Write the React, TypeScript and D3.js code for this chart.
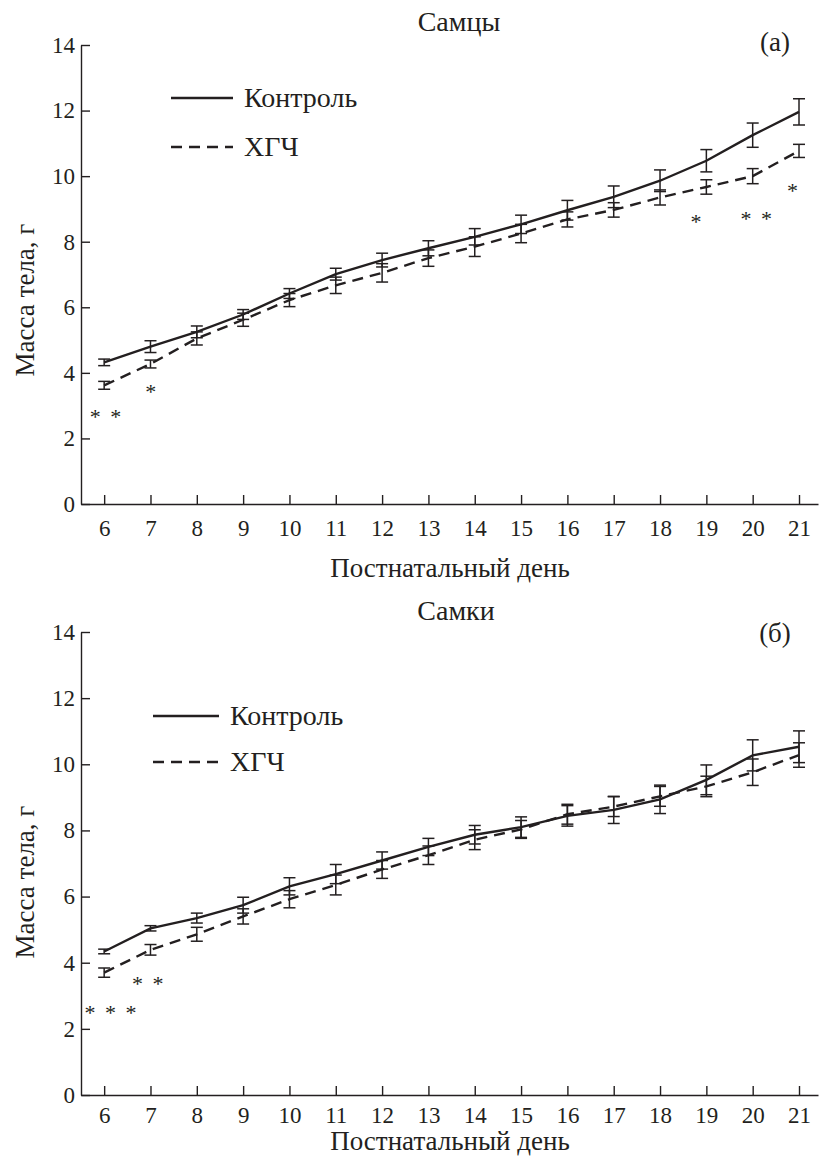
import * as d3 from "d3";
import React, { useRef, useEffect } from "react";

// postnatal days on the x axis
const days = [6, 7, 8, 9, 10, 11, 12, 13, 14, 15, 16, 17, 18, 19, 20, 21];
const yTicks = [0, 2, 4, 6, 8, 10, 12, 14];

// males (a)
const maleControl = [4.32, 4.8, 5.25, 5.78, 6.42, 7.01, 7.44, 7.8, 8.15, 8.53, 8.96, 9.37, 9.86, 10.47, 11.25, 11.96];
const maleControlErr = [0.1, 0.18, 0.18, 0.15, 0.15, 0.18, 0.21, 0.23, 0.25, 0.28, 0.3, 0.33, 0.33, 0.34, 0.37, 0.4];
const maleHcg = [3.62, 4.27, 5.05, 5.62, 6.22, 6.67, 7.05, 7.5, 7.85, 8.25, 8.68, 8.97, 9.35, 9.67, 10.0, 10.77];
const maleHcgErr = [0.12, 0.12, 0.2, 0.2, 0.2, 0.25, 0.28, 0.25, 0.3, 0.28, 0.23, 0.22, 0.23, 0.22, 0.23, 0.2];
const maleStars = [
  { day: 6.05, level: 2.78, label: "* *" },
  { day: 7.03, level: 3.54, label: "*" },
  { day: 18.8, level: 8.72, label: "*" },
  { day: 20.1, level: 8.81, label: "* *" },
  { day: 20.88, level: 9.67, label: "*" },
];

// females (б)
const femaleControl = [4.34, 5.04, 5.35, 5.74, 6.31, 6.68, 7.09, 7.5, 7.87, 8.1, 8.44, 8.62, 8.94, 9.53, 10.27, 10.53];
const femaleControlErr = [0.07, 0.08, 0.15, 0.24, 0.26, 0.29, 0.26, 0.26, 0.28, 0.31, 0.31, 0.41, 0.43, 0.45, 0.47, 0.48];
const femaleHcg = [3.7, 4.39, 4.86, 5.4, 5.92, 6.35, 6.82, 7.25, 7.72, 8.03, 8.49, 8.72, 9.03, 9.33, 9.76, 10.28];
const femaleHcgErr = [0.14, 0.16, 0.21, 0.23, 0.26, 0.3, 0.27, 0.28, 0.3, 0.27, 0.3, 0.3, 0.3, 0.31, 0.4, 0.37];
const femaleStars = [
  { day: 6.16, level: 2.6, label: "* * *" },
  { day: 6.96, level: 3.48, label: "* *" },
];

const legendLabels = ["Контроль", "ХГЧ"];
const xTitle = "Постнатальный день";
const yTitle = "Масса тела, г";

const FONT = "Liberation Serif, Times New Roman, Times, DejaVu Serif, serif";
const INK = "#231f20";

type Star = { day: number; level: number; label: string };
type Panel = {
  top: number;
  bottom: number;
  title: string;
  titleX: number;
  titleY: number;
  tag: string;
  tagY: number;
  yTitleY: number;
  xTitleY: number;
  tickPad: number;
  legX1: number;
  legX2: number;
  legY: number[];
  control: number[];
  controlErr: number[];
  hcg: number[];
  hcgErr: number[];
  stars: Star[];
};

const panels: Panel[] = [
  {
    top: 45, bottom: 504, title: "Самцы", titleX: 459, titleY: 31, tag: "(a)", tagY: 51,
    yTitleY: 300, xTitleY: 577, tickPad: 16, legX1: 171, legX2: 233, legY: [98, 147],
    control: maleControl, controlErr: maleControlErr, hcg: maleHcg, hcgErr: maleHcgErr, stars: maleStars,
  },
  {
    top: 632, bottom: 1095, title: "Самки", titleX: 456, titleY: 620, tag: "(б)", tagY: 642,
    yTitleY: 882, xTitleY: 1150, tickPad: 12, legX1: 153, legX2: 219, legY: [716, 762],
    control: femaleControl, controlErr: femaleControlErr, hcg: femaleHcg, hcgErr: femaleHcgErr, stars: femaleStars,
  },
];

function label(sel: d3.Selection<SVGTextElement, any, any, any>, size: number) {
  return sel.attr("font-family", FONT).attr("font-size", size).attr("fill", INK);
}

function drawPanel(svg: d3.Selection<SVGSVGElement, unknown, null, undefined>, p: Panel) {
  const x = d3.scaleLinear().domain([5.5, 21.41]).range([81, 818]);
  const y = d3.scaleLinear().domain([0, 14]).range([p.bottom, p.top]);
  const g = svg.append("g").attr("font-family", FONT);

  // axes, ticks pointing inward
  const xAxis = g
    .append("g")
    .attr("transform", `translate(0,${p.bottom})`)
    .call(d3.axisBottom(x).tickValues(days).tickFormat(d3.format("d")).tickSizeInner(-9).tickSizeOuter(0).tickPadding(p.tickPad));
  const yAxis = g
    .append("g")
    .attr("transform", "translate(81,0)")
    .call(d3.axisLeft(y).tickValues(yTicks).tickFormat(d3.format("d")).tickSizeInner(-9).tickSizeOuter(0).tickPadding(6));
  [xAxis, yAxis].forEach((a) => {
    a.attr("font-family", FONT).attr("font-size", 23);
    a.selectAll("path, line").attr("stroke", INK).attr("stroke-width", 1.4);
    label(a.selectAll<SVGTextElement, unknown>("text"), 23);
  });

  const series = [
    { vals: p.control, err: p.controlErr, dash: null },
    { vals: p.hcg, err: p.hcgErr, dash: "11 7" },
  ];

  series.forEach((s) => {
    // error bars
    const eb = g.append("g").attr("stroke", INK).attr("stroke-width", 1.5);
    days.forEach((d, i) => {
      const cx = x(d);
      const hi = y(s.vals[i] + s.err[i]);
      const lo = y(s.vals[i] - s.err[i]);
      eb.append("line").attr("x1", cx).attr("x2", cx).attr("y1", hi).attr("y2", lo);
      eb.append("line").attr("x1", cx - 6).attr("x2", cx + 6).attr("y1", hi).attr("y2", hi);
      eb.append("line").attr("x1", cx - 6).attr("x2", cx + 6).attr("y1", lo).attr("y2", lo);
    });
    const line = d3
      .line<number>()
      .x((_, i) => x(days[i]))
      .y((v) => y(v));
    g.append("path")
      .attr("d", line(s.vals))
      .attr("fill", "none")
      .attr("stroke", INK)
      .attr("stroke-width", 2.4)
      .attr("stroke-dasharray", s.dash);
  });

  // significance marks
  label(
    g.selectAll("text.star")
      .data(p.stars)
      .enter()
      .append("text")
      .attr("class", "star")
      .attr("x", (d) => x(d.day))
      .attr("y", (d) => y(d.level))
      .attr("dy", "0.5em")
      .attr("text-anchor", "middle")
      .attr("letter-spacing", 2)
      .text((d) => d.label),
    22
  );

  // legend
  legendLabels.forEach((lab, i) => {
    g.append("line")
      .attr("x1", p.legX1)
      .attr("x2", p.legX2)
      .attr("y1", p.legY[i])
      .attr("y2", p.legY[i])
      .attr("stroke", INK)
      .attr("stroke-width", 2.4)
      .attr("stroke-dasharray", i === 1 ? "11 7" : null);
    label(g.append("text").attr("x", p.legX2 + 11).attr("y", p.legY[i] + 9).text(lab), 28);
  });

  // titles
  label(g.append("text").attr("x", p.titleX).attr("y", p.titleY).attr("text-anchor", "middle").text(p.title), 28);
  label(g.append("text").attr("x", 775).attr("y", p.tagY).attr("text-anchor", "middle").text(p.tag), 27);
  label(g.append("text").attr("x", 450).attr("y", p.xTitleY).attr("text-anchor", "middle").text(xTitle), 27);
  label(
    g.append("text")
      .attr("transform", `translate(34,${p.yTitleY}) rotate(-90)`)
      .attr("text-anchor", "middle")
      .text(yTitle),
    27
  );
}

export default function App() {
  const ref = useRef<SVGSVGElement>(null);

  useEffect(() => {
    const svg = d3.select(ref.current!);
    svg.selectAll("*").remove();
    panels.forEach((p) => drawPanel(svg, p));
  }, []);

  return (
    <svg
      ref={ref}
      width={819}
      height={1159}
      fontFamily={FONT}
      style={{ position: "absolute", left: 0, top: 0, background: "#fff" }}
    />
  );
}
